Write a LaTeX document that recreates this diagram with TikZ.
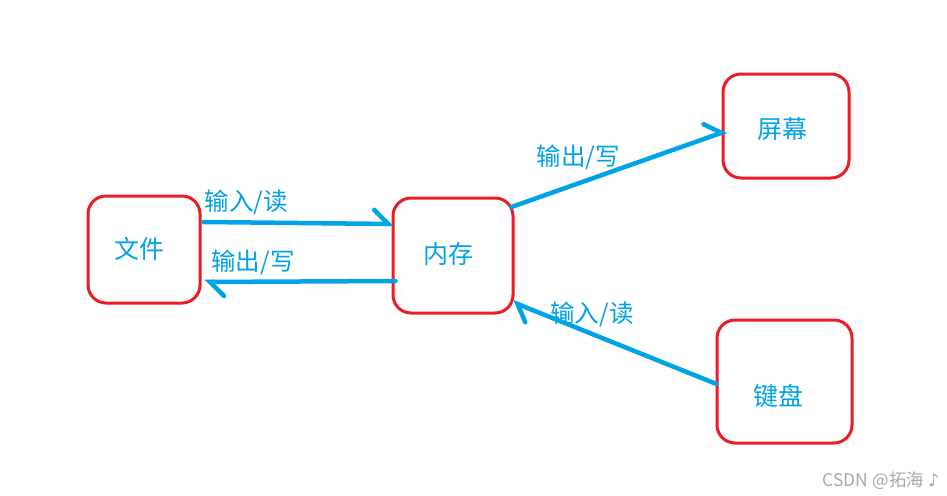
\documentclass[tikz,border=0pt]{standalone}
\usepackage{fontspec}
\setmainfont{Noto Sans CJK SC}
\newfontfamily\symfont{DejaVu Sans}
\usetikzlibrary{arrows.meta}
\definecolor{pblue}{HTML}{00A2E8}
\definecolor{pred}{HTML}{ED1C24}
\definecolor{wgray}{HTML}{A8A8A8}
\tikzset{
  box/.style={draw=pred, line width=3pt, rounded corners=18pt, inner sep=0pt},
  boxtext/.style={text=pblue, font=\fontsize{25}{25}\selectfont, inner sep=0pt},
  lbl/.style={text=pblue, font=\fontsize{24.5}{24.5}\selectfont, inner sep=0pt},
  conn/.style={draw=pblue, line width=4.5pt, line cap=round,
    -{Straight Barb[left, length=14pt, width=28pt, line cap=round]}},
}
\begin{document}
\begin{tikzpicture}[x=1pt,y=-1pt]
\useasboundingbox (0,0) rectangle (947,495);
% boxes
\node[box, minimum width=112pt, minimum height=107pt] (wj) at (144,249.5) {};
\node[box, minimum width=120pt, minimum height=115pt] (nc) at (453,255.5) {};
\node[box, minimum width=126pt, minimum height=104pt] (pm) at (786,126) {};
\node[box, minimum width=135pt, minimum height=123pt] (jp) at (784.5,381.5) {};
% box texts
\node[boxtext] (wjt) at (139,249) {文件};
\node[boxtext] (nct) at (448,254.5) {内存};
\node[boxtext] (pmt) at (782,129) {屏幕};
\node[boxtext] (jpt) at (778,396) {键盘};
% connectors
\draw[conn] ([xshift=2pt,yshift=27.5pt]wj.east) -- ([xshift=2pt,yshift=31.5pt]nc.west);
\draw[conn] ([xshift=4pt,yshift=-25.5pt]nc.west) -- ([xshift=3pt,yshift=-32.5pt]wj.east);
\draw[conn] ([xshift=-3pt,yshift=48.5pt]nc.east) -- ([xshift=5pt,yshift=-5pt]pm.west);
\draw[conn] ([xshift=1pt,yshift=-2.5pt]jp.west) -- ([xshift=-2pt,yshift=-46.5pt]nc.east);
% connector labels
\node[lbl] (l1) at (246.5,202) {输入/读};
\node[lbl] (l2) at (253,262) {输出/写};
\node[lbl] (l3) at (578.5,157) {输出/写};
\node[lbl] (l4) at (592,314) {输入/读};
% watermark
\node[text=wgray, font=\fontsize{17.5}{17.5}\selectfont, inner sep=0pt] (wm) at (881,481) {CSDN @拓海 {\symfont ♪}};
\end{tikzpicture}
\end{document}
